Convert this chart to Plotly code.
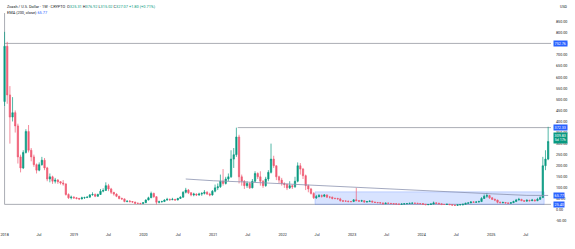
import pandas as pd
import plotly.graph_objects as go

# ---- data (biweekly candles) ----
first_open = 490
closes = [740,520,420,440,380,240,190,260,355,270,240,205,180,205,225,190,140,150,130,135,128,122,118,70,55,58,
          55,52,50,55,56,58,68,70,62,70,85,88,110,95,80,72,62,52,50,38,40,38,36,30,30,29,
          33,45,55,75,60,35,37,38,45,48,46,48,45,52,58,80,90,78,68,72,68,72,75,80,72,68,
          85,100,105,130,120,140,150,230,250,330,150,130,110,120,100,130,165,150,130,110,140,170,230,200,150,135,
          120,115,100,110,105,130,200,185,155,110,95,75,55,60,65,62,68,58,58,52,52,50,42,40,40,38,
          38,46,42,40,42,36,38,40,36,34,33,32,28,31,30,29,28,27,26,27,28,29,30,31,30,29,
          29,26,24,25,27,32,30,28,25,25,26,24,22,21,23,24,26,30,32,36,35,36,38,52,62,65,
          55,48,45,35,33,34,32,30,33,38,45,48,42,40,44,42,45,42,48,56,200,230,309.83]
highs = [805,760,560,510,450,390,250,270,365,384,280,250,210,215,240,235,195,165,155,145,140,130,135,120,75,65,
         62,58,55,60,60,62,72,80,75,74,95,98,125,118,100,80,75,64,56,52,43,45,40,37,33,32,
         35,48,60,83,78,62,42,42,48,55,52,55,50,55,62,85,100,95,80,78,75,78,80,90,85,78,
         90,115,120,160,185,150,165,270,280,372,340,160,135,130,125,140,175,170,175,135,150,180,300,245,200,155,
         145,125,120,130,115,150,215,212,190,160,115,100,80,68,72,70,72,70,62,60,56,55,55,44,43,42,
         40,48,100,45,46,44,40,43,42,37,35,35,33,33,33,31,30,29,28,29,30,31,33,34,33,33,
         31,30,27,27,30,38,35,33,29,27,28,27,25,23,25,26,28,33,35,40,40,40,42,58,70,77,
         68,58,52,46,38,38,35,34,36,42,50,55,50,44,48,46,50,48,55,62,240,270,376]
lows = [470,480,300,400,350,210,170,185,255,260,220,195,165,175,200,180,130,125,118,120,118,115,110,65,50,48,
        50,48,45,48,50,54,56,65,58,60,68,80,88,85,72,65,58,48,46,35,35,34,33,28,28,26,
        28,32,44,55,55,25,30,34,36,42,42,45,42,44,50,56,75,72,62,62,63,64,64,70,68,62,
        65,80,90,100,110,115,130,145,190,240,120,110,95,100,95,98,125,140,110,100,105,130,165,190,135,120,
        110,100,90,95,95,100,125,160,140,90,80,70,50,50,58,56,58,55,52,48,48,47,38,36,37,35,
        35,37,40,37,38,33,34,36,34,32,31,30,26,27,28,27,26,25,25,25,26,27,28,28,28,27,
        26,24,22,22,24,26,28,26,22,23,24,23,20,19,20,22,20,25,29,31,33,33,34,37,50,55,
        50,45,40,30,30,30,29,28,29,32,37,43,40,37,38,38,40,38,40,46,55,180,225]
candle_dates = pd.date_range("2018-01-01", periods=len(closes), freq="14D")
opens = [first_open] + closes[:-1]

ema_dates = ["2020-08-10", "2021-01-04", "2021-07-05", "2022-01-03", "2022-07-04", "2023-01-02",
             "2023-07-03", "2024-01-01", "2024-07-01", "2025-01-06", "2025-07-07", "2025-10-27"]
ema_values = [140, 132, 126, 118, 110, 102, 95, 87, 80, 73, 66, 65.77]

h_levels = [752.76, 25.40]          # full-width horizontal lines
ath_level = 372.33                  # horizontal line from May 2021
box_range = [25.40, 82]             # accumulation box
last_price = 309.83
ema_last = 65.77

x_tick_dates = ["2018-01-01", "2018-07-01", "2019-01-01", "2019-07-01", "2020-01-01", "2020-07-01",
                "2021-01-01", "2021-07-01", "2022-01-01", "2022-07-01", "2023-01-01", "2023-07-01",
                "2024-01-01", "2024-07-01", "2025-01-01", "2025-07-01"]
x_tick_text = ["2018", "Jul", "2019", "Jul", "2020", "Jul", "2021", "Jul", "2022", "Jul",
               "2023", "Jul", "2024", "Jul", "2025", "Jul"]
y_tick_vals = [-50, 0, 50, 100, 150, 200, 250, 300, 350, 400, 450, 500, 550, 600, 650, 700, 750, 800, 850]

GREEN = "#089981"
RED = "#F23645"
BLUE = "#2962FF"
TXT = "#131722"
FONT = "Roboto"

fig = go.Figure()
fig.add_trace(go.Candlestick(
    x=candle_dates, open=opens, high=highs, low=lows, close=closes,
    increasing=dict(line=dict(color=GREEN, width=0.7), fillcolor=GREEN),
    decreasing=dict(line=dict(color="#ef5a72", width=0.7), fillcolor="#ef5a72"),
    whiskerwidth=0, showlegend=False, hoverinfo="skip"))
fig.add_trace(go.Scatter(x=ema_dates, y=ema_values, mode="lines",
                         line=dict(color="#8c93b0", width=0.8), showlegend=False, hoverinfo="skip"))

line_col = "#9598a1"
# horizontal levels
for lv in h_levels:
    fig.add_shape(type="line", xref="x", yref="y", x0="2018-01-01", x1="2025-11-11", y0=lv, y1=lv,
                  line=dict(color=line_col, width=0.8), layer="below")
fig.add_shape(type="line", xref="x", yref="y", x0="2018-01-01", x1="2018-01-01", y0=h_levels[1], y1=890,
              line=dict(color=line_col, width=0.8), layer="below")
fig.add_shape(type="line", xref="x", yref="y", x0="2021-05-10", x1="2025-11-11", y0=ath_level, y1=ath_level,
              line=dict(color=line_col, width=0.8), layer="below")
fig.add_shape(type="rect", xref="x", yref="y", x0="2022-06-20", x1="2025-10-06", y0=box_range[0], y1=box_range[1],
              fillcolor="rgba(41,98,255,0.18)", line=dict(color="rgba(41,98,255,0.35)", width=0.6), layer="below")

# price-scale labels
def plabel(y, text, bg, ys=0):
    fig.add_annotation(xref="paper", yref="y", x=1, y=y, xanchor="left", yanchor="middle", xshift=2, yshift=ys,
                       text=text, showarrow=False, bgcolor=bg, borderpad=0.6,
                       font=dict(family=FONT, size=3.7, color="white"))

plabel(h_levels[0], "752.76", BLUE)
plabel(ath_level, "372.33", BLUE)
plabel(last_price, "309.83<br>5d 17h", GREEN, ys=3)
plabel(ema_last, "65.77", BLUE)
plabel(h_levels[1], "25.40", BLUE)

# header legend
fig.add_annotation(xref="paper", yref="paper", x=0, y=1, xanchor="left", yanchor="top", xshift=5, yshift=-2,
                   showarrow=False, align="left",
                   text=("Zcash / U.S. Dollar · 1W · CRYPTO  "
                         f"O<span style='color:{GREEN}'>325.31</span> H<span style='color:{GREEN}'>376.92</span> "
                         f"L<span style='color:{GREEN}'>315.02</span> C<span style='color:{GREEN}'>327.07</span> "
                         f"<span style='color:{GREEN}'>+1.80 (+0.71%)</span>"),
                   font=dict(family=FONT, size=3.9, color=TXT))
fig.add_annotation(xref="paper", yref="paper", x=0, y=1, xanchor="left", yanchor="top", xshift=5, yshift=-8,
                   showarrow=False, align="left",
                   text=f"EMA (200, close) <span style='color:{BLUE}'>65.77</span>",
                   font=dict(family=FONT, size=3.9, color=TXT))
fig.add_annotation(xref="paper", yref="paper", x=1, y=1, xanchor="left", yanchor="top", xshift=7, yshift=-3,
                   showarrow=False, text="USD", font=dict(family=FONT, size=3.7, color=TXT))

fig.update_layout(
    width=575, height=249, margin=dict(l=0, r=24, t=0, b=21),
    paper_bgcolor="white", plot_bgcolor="white",
    xaxis=dict(type="date", range=["2017-12-08", "2025-11-11"], rangeslider=dict(visible=False),
               showgrid=False, zeroline=False, showline=False,
               tickmode="array", tickvals=x_tick_dates, ticktext=x_tick_text,
               tickfont=dict(family=FONT, size=3.7, color=TXT), ticks="", ticklabelstandoff=3),
    yaxis=dict(side="right", range=[-81.4, 949], showgrid=False, zeroline=False, showline=False,
               tickmode="array", tickvals=y_tick_vals, ticktext=[f"{v:.2f}" for v in y_tick_vals],
               tickfont=dict(family=FONT, size=3.7, color=TXT), ticks="", ticklabelstandoff=4),
)

fig.write_html("out.html")
